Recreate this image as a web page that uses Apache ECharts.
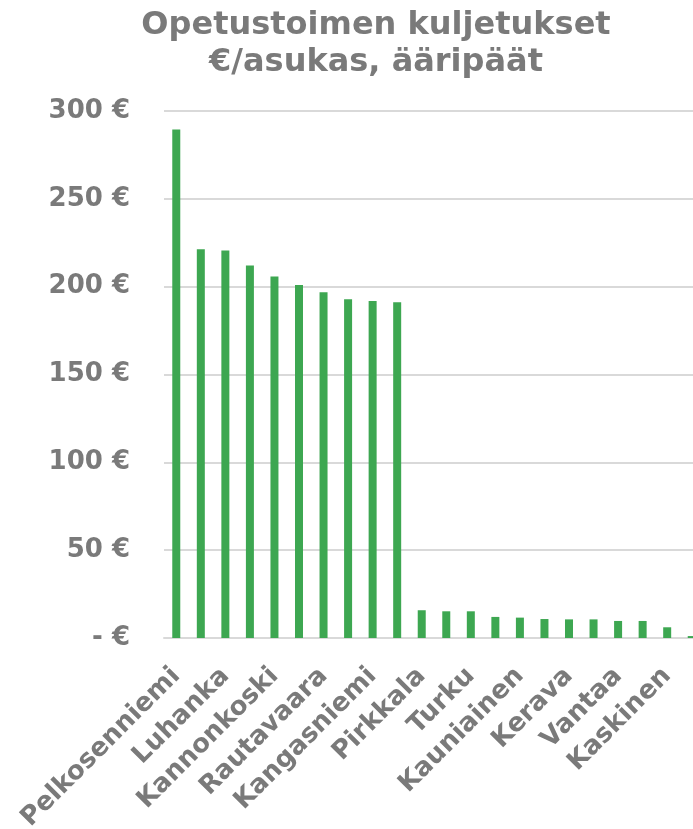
<!DOCTYPE html>
<html>
<head>
<meta charset="utf-8">
<script src="https://cdn.jsdelivr.net/npm/echarts@6/dist/echarts.min.js"></script>
<style>
  html, body { margin: 0; padding: 0; background: #ffffff; }
  #chart { width: 693px; height: 829px; }
</style>
</head>
<body>
<div id="chart"></div>
<script>
// Municipalities, sorted by cost; only every other name is printed on the axis
const municipalities = [
  'Pelkosenniemi', '', 'Luhanka', '', 'Kannonkoski', '', 'Rautavaara', '',
  'Kangasniemi', '', 'Pirkkala', '', 'Turku', '', 'Kauniainen', '',
  'Kerava', '', 'Vantaa', '', 'Kaskinen', ''
];
// School transport cost, € per resident
const costPerResident = [
  289.4, 221.3, 220.6, 212.0, 205.8, 200.9, 196.8, 192.9, 191.8, 191.1,
  15.8, 15.2, 15.2, 12.0, 11.6, 10.8, 10.6, 10.6, 9.7, 9.7, 6.1, 1.1
];
const yTicks = [0, 50, 100, 150, 200, 250, 300];

const textGrey = '#7a7a7a';
const fontFamily = '"DejaVu Sans", Verdana, sans-serif';

const chart = echarts.init(document.getElementById('chart'), null, { renderer: 'canvas' });

chart.setOption({
  animation: false,
  title: {
    text: 'Opetustoimen kuljetukset\n€/asukas, ääripäät',
    left: 371,
    top: 2,
    textAlign: 'center',
    textStyle: {
      color: textGrey,
      fontFamily: fontFamily,
      fontWeight: 'bold',
      fontSize: 32,
      lineHeight: 37
    }
  },
  grid: {
    left: 164,
    top: 111,
    width: 540,
    height: 527,
    containLabel: false,
    outerBoundsMode: 'none'
  },
  xAxis: {
    type: 'category',
    data: municipalities,
    axisLine: { show: true, lineStyle: { color: '#d9d9d9', width: 2 } },
    axisTick: { show: false },
    axisLabel: {
      interval: 1,
      rotate: 45,
      margin: 34,
      color: textGrey,
      fontFamily: fontFamily,
      fontWeight: 'bold',
      fontSize: 26
    }
  },
  yAxis: {
    type: 'value',
    min: yTicks[0],
    max: yTicks[yTicks.length - 1],
    interval: yTicks[1] - yTicks[0],
    axisLine: { show: false },
    axisTick: { show: false },
    splitLine: { lineStyle: { color: '#d9d9d9', width: 2 } },
    axisLabel: {
      margin: 34,
      color: textGrey,
      fontFamily: fontFamily,
      fontWeight: 'bold',
      fontSize: 26,
      formatter: v => (v === 0 ? '- €' : v + ' €')
    }
  },
  series: [{
    type: 'bar',
    data: costPerResident,
    barWidth: 8,
    itemStyle: { color: '#3da751' }
  }]
});
</script>
</body>
</html>
